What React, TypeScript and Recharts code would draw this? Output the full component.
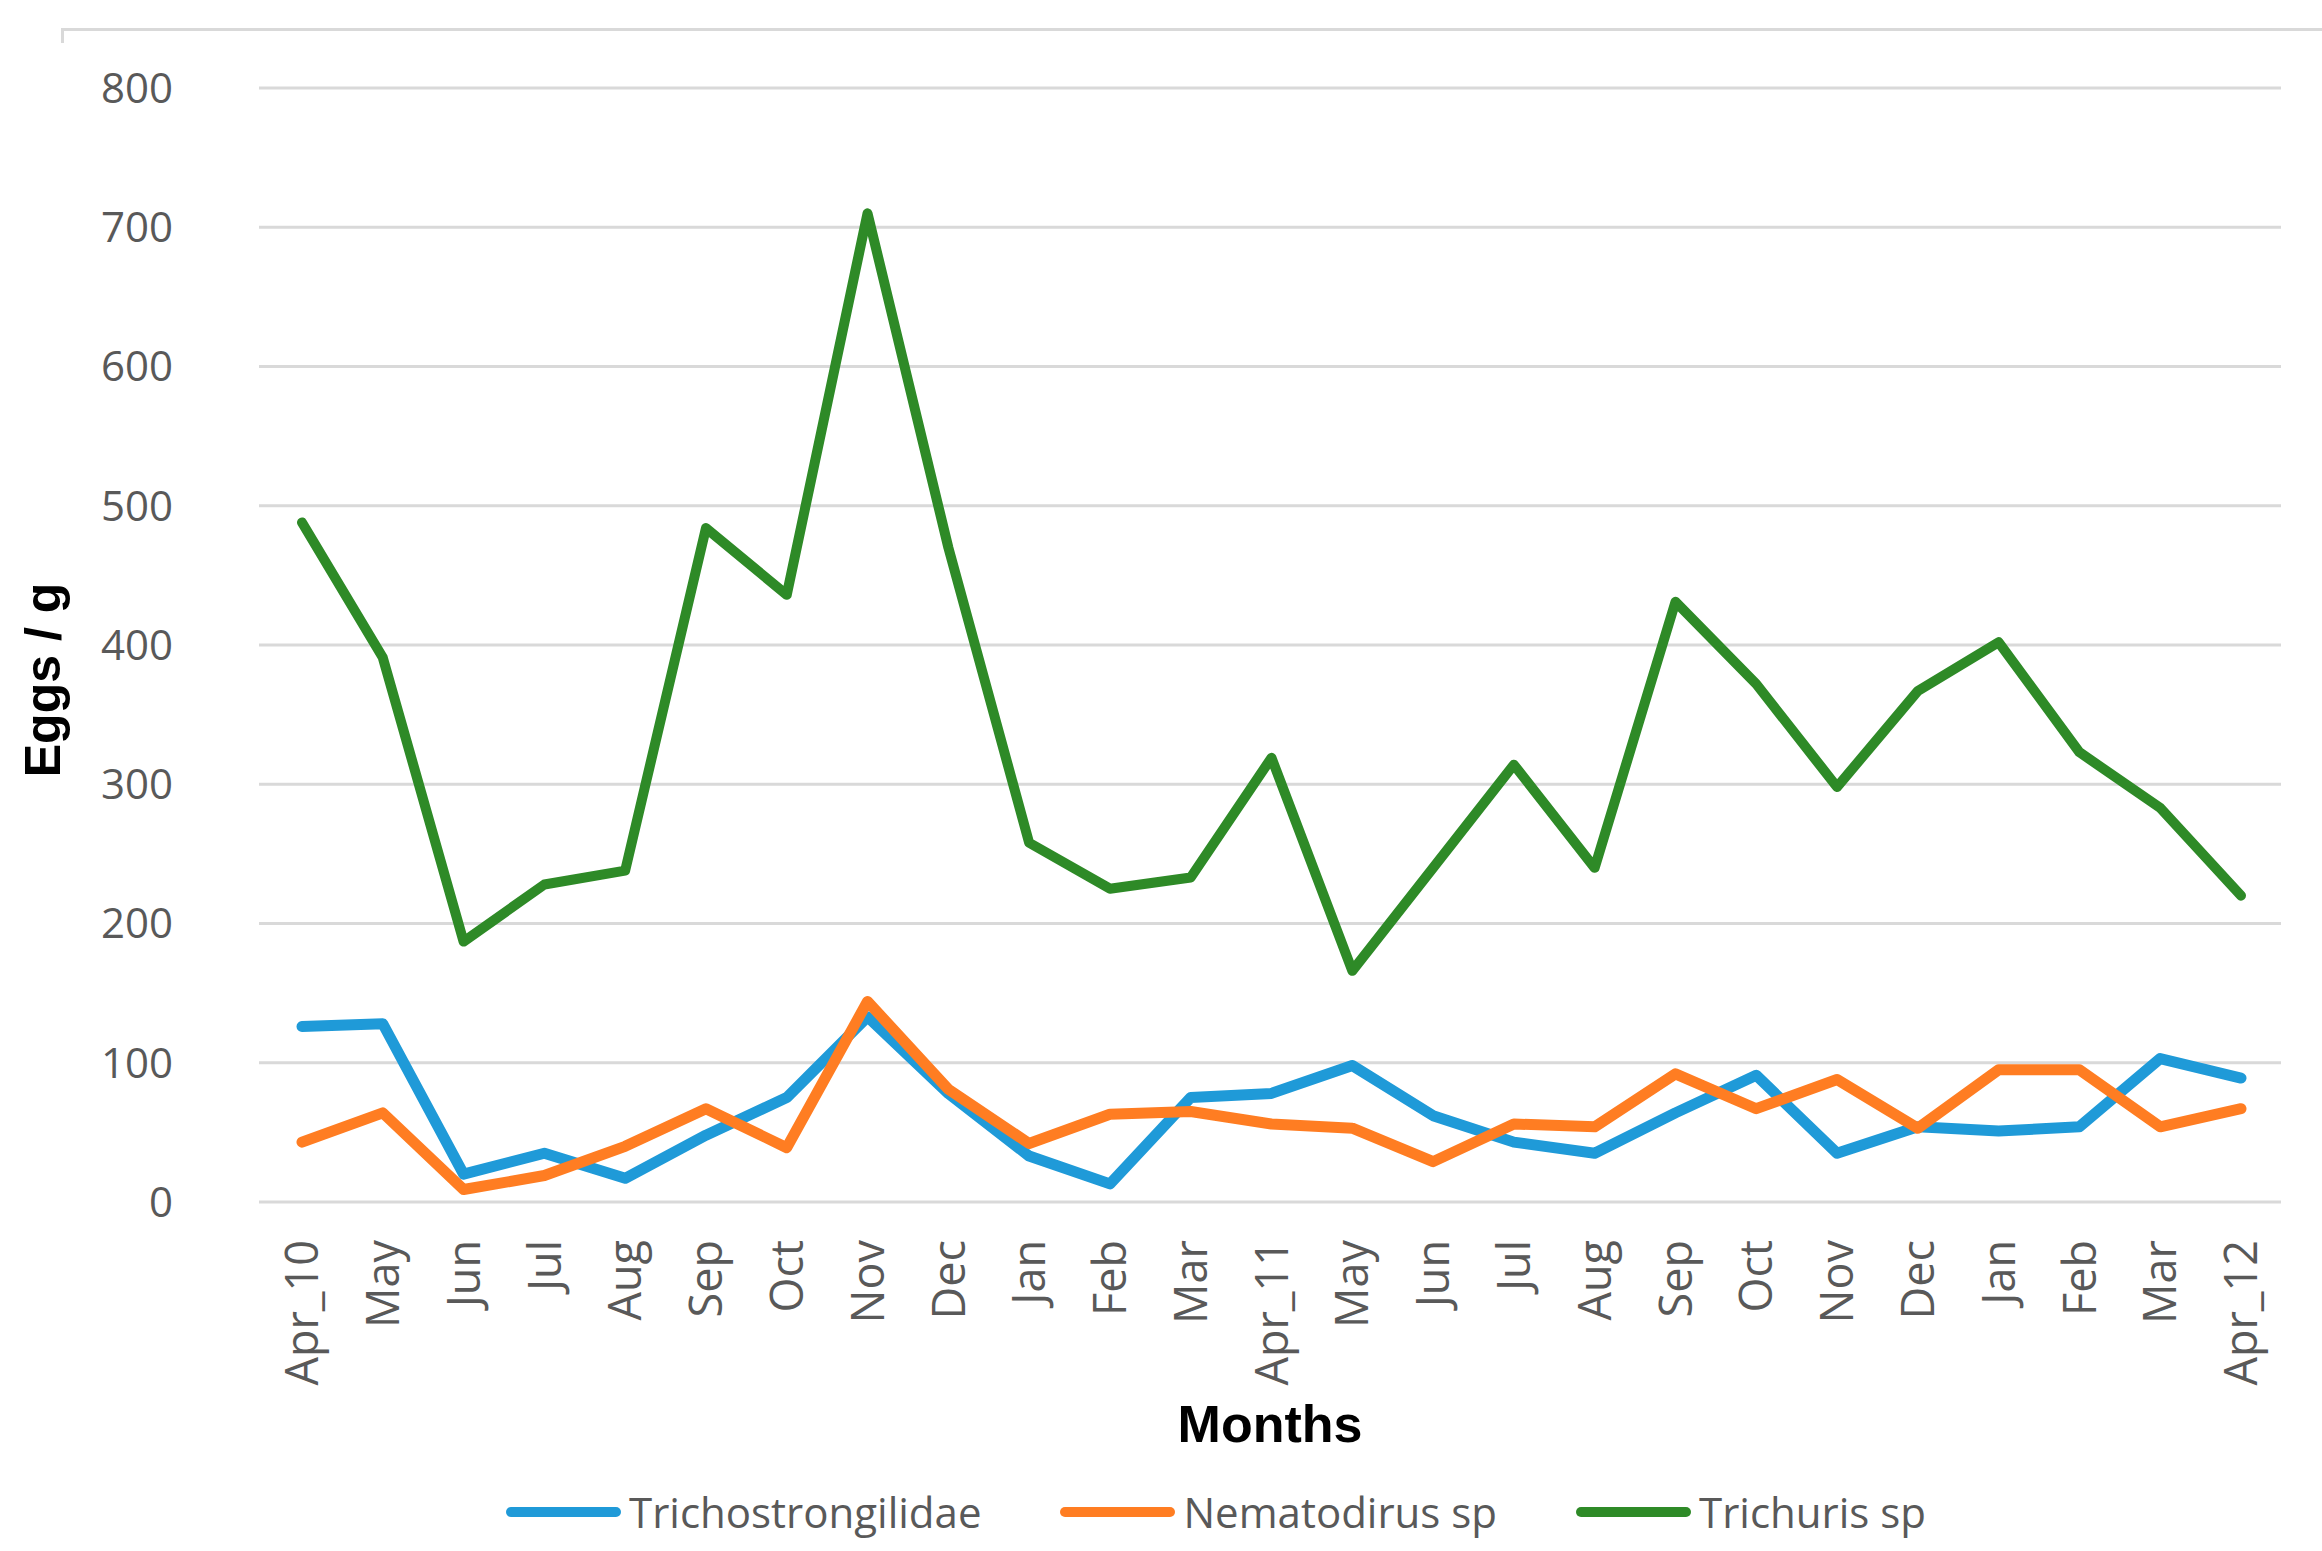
import React from 'react'
import { LineChart, Line, XAxis, YAxis, CartesianGrid, Legend, Label } from 'recharts'

const months = [
  'Apr_10', 'May', 'Jun', 'Jul', 'Aug', 'Sep', 'Oct', 'Nov', 'Dec', 'Jan', 'Feb', 'Mar',
  'Apr_11', 'May', 'Jun', 'Jul', 'Aug', 'Sep', 'Oct', 'Nov', 'Dec', 'Jan', 'Feb', 'Mar', 'Apr_12',
]

const trichostrongilidae = [126, 128, 20, 35, 17, 48, 75, 133, 78, 33, 13, 75, 78, 98, 62, 43, 35, 64, 91, 35, 54, 51, 54, 103, 89]
const nematodirus = [43, 64, 9, 19, 40, 67, 39, 144, 81, 42, 63, 65, 56, 53, 29, 56, 54, 92, 67, 88, 53, 95, 95, 54, 67]
const trichuris = [488, 391, 187, 228, 238, 484, 436, 710, 470, 258, 225, 233, 319, 166, 240, 314, 240, 431, 372, 298, 367, 402, 323, 283, 220]

const yTicks = [0, 100, 200, 300, 400, 500, 600, 700, 800]
const legendOrder = ['Trichostrongilidae', 'Nematodirus sp', 'Trichuris sp']

const data = months.map((m, i) => ({
  idx: i,
  month: m,
  tricho: trichostrongilidae[i],
  nema: nematodirus[i],
  trich: trichuris[i],
}))

const FONT = '"Open Sans", "DejaVu Sans", sans-serif'
const GRID = '#d9d9d9'
const TEXT = '#595959'

const MonthTick = (props: any) => {
  const { x, y, payload } = props
  return (
    <text
      x={x}
      y={y}
      dy="0.36em"
      transform={`rotate(-90, ${x}, ${y})`}
      textAnchor="end"
      fill={TEXT}
      fontFamily={FONT}
      fontSize={45}
    >
      {months[payload.value]}
    </text>
  )
}

const renderLegend = (props: any) => {
  const items = [...(props.payload || [])].sort(
    (a: any, b: any) => legendOrder.indexOf(a.value) - legendOrder.indexOf(b.value)
  )
  return (
    <div
      style={{
        display: 'flex',
        justifyContent: 'center',
        gap: 79,
        fontFamily: FONT,
        fontSize: 42,
        lineHeight: '60px',
        color: TEXT,
      }}
    >
      {items.map((entry: any) => (
        <div key={entry.value} style={{ display: 'flex', alignItems: 'center' }}>
          <span
            style={{
              display: 'inline-block',
              width: 115,
              height: 10,
              borderRadius: 5,
              background: entry.color,
              marginRight: 8,
            }}
          />
          {entry.value}
        </div>
      ))}
    </div>
  )
}

export default function App() {
  return (
    <div style={{ position: 'absolute', left: 0, top: 0, width: 2322, height: 1551, background: '#fff' }}>
      {/* cropped chart frame at the top */}
      <div
        style={{
          position: 'absolute',
          left: 61,
          top: 28,
          width: 2261,
          height: 12,
          borderTop: `3px solid ${GRID}`,
          borderLeft: `3px solid ${GRID}`,
        }}
      />
      <LineChart
        width={2322}
        height={1551}
        data={data}
        margin={{ top: 88, right: 41, left: 0, bottom: 0 }}
      >
        <CartesianGrid vertical={false} stroke={GRID} strokeWidth={3} />
        <XAxis
          dataKey="idx"
          type="category"
          interval={0}
          height={349}
          axisLine={false}
          tickLine={false}
          tickSize={6}
          tickMargin={32}
          padding={{ left: 43, right: 40 }}
          tick={<MonthTick />}
        >
          <Label
            content={({ viewBox }: any) => (
              <text
                x={viewBox.x + viewBox.width / 2}
                y={viewBox.y + 240}
                textAnchor="middle"
                fontFamily='"Liberation Sans", Arial, sans-serif'
                fontWeight="bold"
                fontSize={52}
                fill="#000"
              >
                Months
              </text>
            )}
          />
        </XAxis>
        <YAxis
          domain={[0, 800]}
          ticks={yTicks}
          width={259}
          axisLine={false}
          tickLine={false}
          tickSize={0}
          tickMargin={86}
          tick={{ fill: TEXT, fontFamily: FONT, fontSize: 42 }}
        >
          <Label
            content={({ viewBox }: any) => {
              const cy = viewBox.y + viewBox.height / 2 + 35
              return (
                <text
                  x={60}
                  y={cy}
                  transform={`rotate(-90, 60, ${cy})`}
                  textAnchor="middle"
                  fontFamily='"Liberation Sans", Arial, sans-serif'
                  fontWeight="bold"
                  fontSize={50}
                  fill="#000"
                >
                  Eggs / g
                </text>
              )
            }}
          />
        </YAxis>
        <Legend
          layout="horizontal"
          verticalAlign="middle"
          align="center"
          content={renderLegend}
          wrapperStyle={{ left: 110, width: 2212, top: 1482 }}
        />
        <Line
          name="Trichostrongilidae"
          dataKey="tricho"
          stroke="#1f9ad8"
          strokeWidth={11}
          strokeLinejoin="round"
          strokeLinecap="round"
          dot={false}
          activeDot={false}
          isAnimationActive={false}
        />
        <Line
          name="Nematodirus sp"
          dataKey="nema"
          stroke="#ff7d22"
          strokeWidth={11}
          strokeLinejoin="round"
          strokeLinecap="round"
          dot={false}
          activeDot={false}
          isAnimationActive={false}
        />
        <Line
          name="Trichuris sp"
          dataKey="trich"
          stroke="#2e8a27"
          strokeWidth={10}
          strokeLinejoin="round"
          strokeLinecap="round"
          dot={false}
          activeDot={false}
          isAnimationActive={false}
        />
      </LineChart>
    </div>
  )
}
